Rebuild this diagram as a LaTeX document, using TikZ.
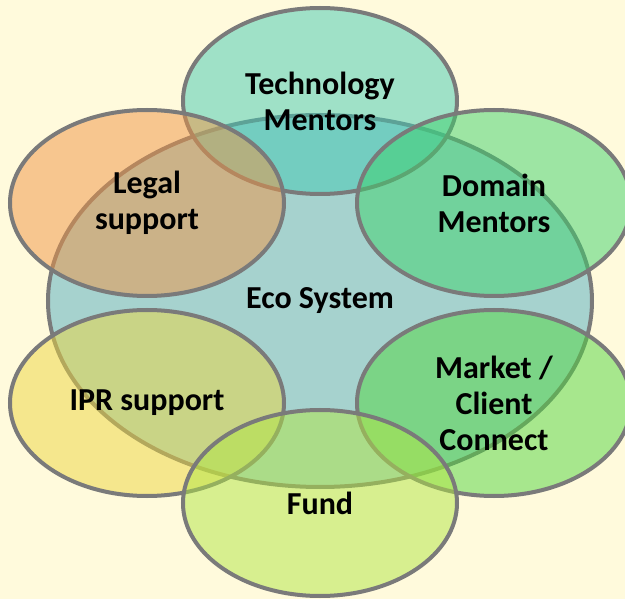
\documentclass[tikz,border=0pt]{standalone}
\usepackage{fontspec}
\setmainfont{Carlito}
\usepackage{xcolor}
\usetikzlibrary{shapes.geometric}

\definecolor{bgyellow}{HTML}{FFFADC}
\definecolor{ringgray}{HTML}{7A7A7A}
\definecolor{ecofill}{RGB}{166,210,206}
\definecolor{techfill}{RGB}{65,202,180}
\definecolor{legalfill}{RGB}{241,148,68}
\definecolor{domainfill}{RGB}{61,210,108}
\definecolor{iprfill}{RGB}{237,214,64}
\definecolor{marketfill}{RGB}{81,214,64}
\definecolor{fundfill}{RGB}{177,230,68}

\tikzset{
	ring/.style={ellipse, draw=ringgray, line width=4pt, fill opacity=0.5,
		minimum width=274pt, minimum height=186pt, inner sep=0pt},
	lbl/.style={font=\bfseries\fontsize{32}{36}\selectfont, align=center, text=black}
}

\begin{document}
\begin{tikzpicture}[x=1pt,y=-1pt]
			\useasboundingbox (0,0) rectangle (625,599);
			\fill[bgyellow] (0,0) rectangle (625,599);
			\clip (0,0) rectangle (625,599);
			\node[ring, fill=ecofill, fill opacity=1, minimum width=544pt, minimum height=372pt] (eco) at (320,301) {};
			\node[ring, fill=techfill] (tech) at (320,101) {};
			\node[ring, fill=legalfill] (legal) at (147,203) {};
			\node[ring, fill=domainfill] (domain) at (494,203) {};
			\node[ring, fill=iprfill] (ipr) at (147,403) {};
			\node[ring, fill=marketfill] (market) at (494,403) {};
			\node[ring, fill=fundfill] (fund) at (320,503) {};
			\node[lbl] (ecotext) at (eco) {Eco System};
			\node[lbl] (techtext) at (tech) {Technology\\Mentors};
			\node[lbl] (legaltext) at (legal) {Legal\\support};
			\node[lbl] (domaintext) at (domain) {Domain\\Mentors};
			\node[lbl] (iprtext) at (ipr) {IPR support};
			\node[lbl] (markettext) at (market) {Market /\\Client\\Connect};
			\node[lbl] (fundtext) at (fund) {Fund};
		\end{tikzpicture}
\end{document}
